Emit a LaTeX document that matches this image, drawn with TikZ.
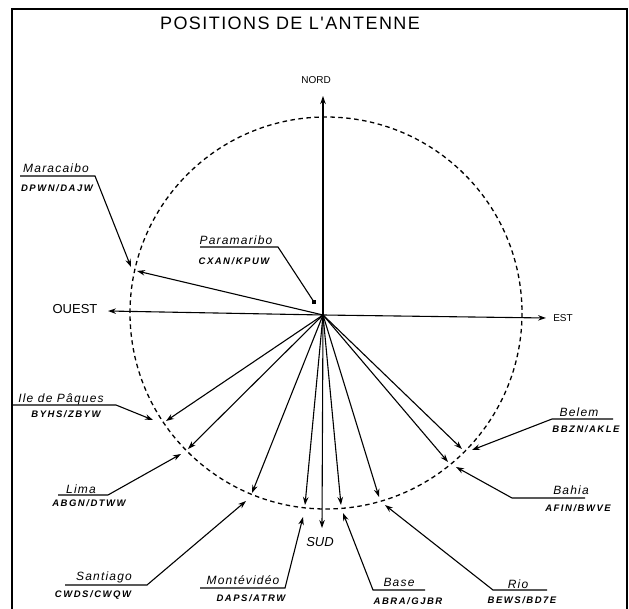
\documentclass[tikz,border=0pt]{standalone}
\usepackage{fontspec}
\usetikzlibrary{arrows.meta}
\setmainfont{Liberation Sans}
\newfontfamily\titlefnt[LetterSpace=8]{Liberation Sans}
\newfontfamily\namefnt[LetterSpace=10]{Liberation Sans}
\newfontfamily\codefnt[LetterSpace=16]{Liberation Sans}
\begin{document}
\begin{tikzpicture}[x=1pt,y=-1pt,
  tip/.style={-{Stealth[length=8pt,width=5.5pt]}},
  ray/.style={tip,line width=1.1pt},
  lead/.style={tip,line width=1.1pt},
  axis/.style={tip,line width=1.1pt},
  stname/.style={inner sep=0pt,font=\namefnt\itshape\fontsize{12}{12}\selectfont},
  stcode/.style={inner sep=0pt,font=\codefnt\bfseries\itshape\fontsize{9.5}{9.5}\selectfont},
  dirlab/.style={inner sep=0pt,font=\fontsize{11}{11}\selectfont},
  titlelab/.style={inner sep=0pt,font=\titlefnt\fontsize{18}{18}\selectfont},
  frame/.style={line width=2.6pt},
  horizon/.style={dashed,dash pattern=on 4.5pt off 3.5pt,line width=1.3pt}]
\useasboundingbox (0,0) rectangle (629,609);
\fill[white] (0,0) rectangle (629,609);
% frame
\draw[frame] (12,615) -- (12,9) -- (627,9) -- (627,615);
% title
\node[titlelab] (title) at (290,23) {POSITIONS DE L'ANTENNE};
% circle
\coordinate (C) at (326,313);
\draw[horizon] (C) circle[radius=196];
% axes
\coordinate (O) at (323,315);
\coordinate (Ntip) at (323,96);
\coordinate (Stip) at (322,528);
\coordinate (Wtip) at (108,311);
\coordinate (Etip) at (546,318);
\draw[axis] (O) -- (Ntip);
\draw[axis] (O) -- (Stip);
\draw[axis] (O) -- (Wtip);
\draw[axis] (O) -- (Etip);
\node[dirlab,font=\fontsize{10}{10}\selectfont] (nord) at (316,80) {NORD};
\node[dirlab,font=\itshape\fontsize{13}{13}\selectfont] (sud) at (320,542) {SUD};
\node[dirlab,font=\fontsize{13}{13}\selectfont] (ouest) at (75,309) {OUEST};
\node[dirlab,font=\fontsize{10}{10}\selectfont] (est) at (563,318) {EST};
% ---- Maracaibo
\node[stname] (mara) at (56,168) {Maracaibo};
\node[stcode] (maraC) at (57,188) {DPWN/DAJW};
\coordinate (maraL) at (20,176); \coordinate (maraR) at (95,176);
\coordinate (maraT) at (131,267); \coordinate (maraP) at (137,271);
\draw[lead] (maraL) -- (maraR) -- (maraT);
\draw[ray] (O) -- (maraP);
% ---- Paramaribo
\node[stname] (para) at (236,240) {Paramaribo};
\node[stcode] (paraC) at (234,261) {CXAN/KPUW};
\coordinate (paraL) at (200,247); \coordinate (paraR) at (278,247);
\coordinate (paraT) at (314,302);
\draw[line width=1.1pt] (paraL) -- (paraR) -- (paraT);
\fill (paraT) ++(-1.8,-1.8) rectangle ++(3.6,3.6);
% ---- Ile de Paques
\node[stname] (ile) at (61,399) {Ile de Pâques};
\node[stcode] (ileC) at (66,414) {BYHS/ZBYW};
\coordinate (ileL) at (13,405); \coordinate (ileR) at (116,405);
\coordinate (ileT) at (153,420); \coordinate (ileP) at (166,421);
\draw[lead] (ileL) -- (ileR) -- (ileT);
\draw[ray] (O) -- (ileP);
% ---- Lima
\node[stname] (lima) at (81,489) {Lima};
\node[stcode] (limaC) at (89,503) {ABGN/DTWW};
\coordinate (limaL) at (58,495); \coordinate (limaR) at (108,495);
\coordinate (limaT) at (181,454); \coordinate (limaP) at (188,449);
\draw[lead] (limaL) -- (limaR) -- (limaT);
\draw[ray] (O) -- (limaP);
% ---- Santiago
\node[stname] (sant) at (104,577) {Santiago};
\node[stcode] (santC) at (93,595) {CWDS/CWQW};
\coordinate (santL) at (65,585); \coordinate (santR) at (147,585);
\coordinate (santT) at (246,501); \coordinate (santP) at (252,493);
\draw[lead] (santL) -- (santR) -- (santT);
\draw[ray] (O) -- (santP);
% ---- Montevideo
\node[stname] (mont) at (243,580) {Montévidéo};
\node[stcode] (montC) at (251,598) {DAPS/ATRW};
\coordinate (montL) at (200,588); \coordinate (montR) at (285,588);
\coordinate (montT) at (303,517); \coordinate (montP) at (305,505);
\draw[lead] (montL) -- (montR) -- (montT);
\draw[ray] (O) -- (montP);
% ---- Base
\node[stname] (base) at (399,582) {Base};
\node[stcode] (baseC) at (408,601) {ABRA/GJBR};
\coordinate (baseL) at (373,590); \coordinate (baseR) at (425,590);
\coordinate (baseT) at (343,513); \coordinate (baseP) at (341,505);
\draw[lead] (baseR) -- (baseL) -- (baseT);
\draw[ray] (O) -- (baseP);
% ---- Rio
\node[stname] (rio) at (518,584) {Rio};
\node[stcode] (rioC) at (522,600) {BEWS/BD7E};
\coordinate (rioL) at (493,590); \coordinate (rioR) at (547,590);
\coordinate (rioT) at (385,505); \coordinate (rioP) at (379,497);
\draw[lead] (rioR) -- (rioL) -- (rioT);
\draw[ray] (O) -- (rioP);
% ---- Bahia
\node[stname] (bahia) at (571,490) {Bahia};
\node[stcode] (bahiaC) at (578,508) {AFIN/BWVE};
\coordinate (bahiaL) at (512,498); \coordinate (bahiaR) at (585,498);
\coordinate (bahiaT) at (456,467); \coordinate (bahiaP) at (448,462);
\draw[lead] (bahiaR) -- (bahiaL) -- (bahiaT);
\draw[ray] (O) -- (bahiaP);
% ---- Belem
\node[stname] (belem) at (579,412) {Belem};
\node[stcode] (belemC) at (586,429) {BBZN/AKLE};
\coordinate (belemL) at (552,419); \coordinate (belemR) at (613,419);
\coordinate (belemT) at (472,450); \coordinate (belemP) at (462,449);
\draw[lead] (belemR) -- (belemL) -- (belemT);
\draw[ray] (O) -- (belemP);
\end{tikzpicture}
\end{document}
